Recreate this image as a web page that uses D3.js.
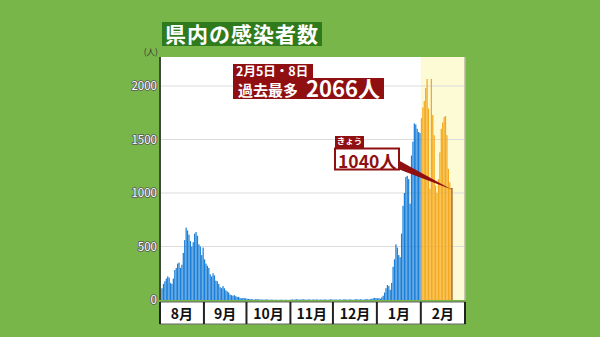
<!DOCTYPE html>
<html><head><meta charset="utf-8">
<script src="https://cdn.jsdelivr.net/npm/d3@7"></script>
<style>
html,body{margin:0;padding:0;background:#79b64a;}
svg{display:block;}
text{font-family:"Noto Sans CJK JP","Noto Sans",sans-serif;}
</style></head><body>
<svg id="c" width="600" height="337"></svg>
<script>
// ---- data ----
const monthLabels = ["8月","9月","10月","11月","12月","1月","2月"];
const monthStarts = ["2021-08-01","2021-09-01","2021-10-01","2021-11-01","2021-12-01","2022-01-01","2022-02-01"];
const yTicks = [0, 500, 1000, 1500, 2000];
const aug = [94,110,150,175,200,220,210,160,150,200,280,300,340,350,300,330,440,560,676,650,610,550,500,540,620,635,600,520,500,420,490];
const sep = [380,340,320,300,240,220,250,230,180,175,150,120,110,130,110,90,80,70,50,45,40,45,35,30,28,20,15,20,18,15];
const oct = [12,10,9,8,6,5,7,8,6,5,4,5,3,4,6,3,2,4,3,2,2,3,1,2,4,2,1,3,2,1,2];
const nov = [4,6,3,5,8,4,3,6,5,7,4,3,5,6,2,4,5,3,6,4,2,5,3,4,6,3,2,5,7,4];
const dec = [3,5,4,2,6,4,3,5,7,4,3,6,5,4,2,6,8,5,4,7,5,3,6,9,7,5,8,12,15,20,18];
const jan = [15,18,12,25,40,70,110,140,130,95,160,310,380,520,490,420,400,620,880,1000,1150,1160,1130,900,1350,1480,1650,1640,1600,1570,1560];
const feb = [1700,1800,1860,1980,2066,1790,1040,2066,1730,1540,1070,1000,1130,1380,1600,1660,1710,1720,1540,1225,1100,1040];
const startDate = "2021-08-01";
const highlightStart = "2022-02-01";
const titleText = "県内の感染者数";
const unitText = "(人)";
const recordDateText = "2月5日・8日";
const recordLabel = "過去最多";
const recordValueText = "2066人";
const todayLabel = "きょう";
const todayValueText = "1040人";

// ---- build ----
const parse = d3.utcParse("%Y-%m-%d");
const values = [].concat(aug, sep, oct, nov, dec, jan, feb);
const t0 = parse(startDate);
const data = values.map((v, i) => ({date: d3.utcDay.offset(t0, i), value: v}));
const endDate = d3.utcDay.offset(t0, values.length);

const L = 160, R = 465, T = 57, B = 300;
const svg = d3.select("#c");

const x = d3.scaleUtc().domain([t0, endDate]).range([L, 452]);
const y = d3.scaleLinear().domain([0, 2271]).range([B, T]);
const hl = parse(highlightStart);

// plot background
svg.append("rect").attr("x", L).attr("y", T).attr("width", R - L).attr("height", B - T).attr("fill", "#ffffff");
svg.append("rect").attr("x", x(hl)).attr("y", T).attr("width", R - x(hl)).attr("height", B - T).attr("fill", "#fdfbd6");

// gridlines
svg.append("g").selectAll("line").data(yTicks.filter(d => d > 0)).join("line")
  .attr("x1", L).attr("x2", R).attr("y1", d => y(d)).attr("y2", d => y(d))
  .attr("stroke", "#dcdcdc").attr("stroke-width", 1);

// bars
svg.append("g").selectAll("rect").data(data).join("rect")
  .attr("x", d => x(d.date))
  .attr("width", d => Math.max(0.5, x(d3.utcDay.offset(d.date, 1)) - x(d.date) - 0.18))
  .attr("y", d => y(d.value))
  .attr("height", d => B - y(d.value))
  .attr("fill", d => d.date >= hl ? "#f4a81c" : "#1a7fd8");

// today bar outline
const last = data[data.length - 1];
const lx0 = x(last.date), lx1 = x(d3.utcDay.offset(last.date, 1));
svg.append("path")
  .attr("d", `M${lx0},${y(last.value)}H${lx1}V${B}`)
  .attr("fill", "none").attr("stroke", "#a4561c").attr("stroke-width", 1.2);

// right border
svg.append("line").attr("x1", R).attr("x2", R).attr("y1", T).attr("y2", B).attr("stroke", "#b9b9a0").attr("stroke-width", 1.5);

// y axis
const yAxis = d3.axisLeft(y).tickValues(yTicks).tickSize(0).tickPadding(3).tickFormat(d3.format("d"));
const ya = svg.append("g").attr("transform", `translate(${L},0)`).call(yAxis);
ya.select(".domain").attr("stroke", "#3d4a3a").attr("stroke-width", 2).attr("d", `M0,${T}V${B}`);
ya.selectAll("text")
  .attr("font-size", 11.5).attr("fill", "#ffffff")
  .attr("stroke", "#5a5a5a").attr("stroke-width", 1.6).attr("paint-order", "stroke")
  .attr("font-family", "'Noto Sans','Noto Sans CJK JP',sans-serif");

svg.append("text").attr("x", 158).attr("y", 55).attr("text-anchor", "end")
  .attr("font-size", 8.5).attr("fill", "#333").text(unitText);

// month band
const bandT = 302, bandB = 324;
const ms = monthStarts.map(parse);
const bounds = ms.map(d => x(d)).concat([R]);
svg.append("rect").attr("x", L).attr("y", bandT).attr("width", R - L).attr("height", bandB - bandT)
  .attr("fill", "#ffffff").attr("stroke", "#666").attr("stroke-width", 1);
svg.append("g").selectAll("line").data(bounds).join("line")
  .attr("x1", d => d).attr("x2", d => d).attr("y1", bandT).attr("y2", bandB)
  .attr("stroke", "#222").attr("stroke-width", 2);
svg.append("g").selectAll("text").data(monthLabels).join("text")
  .attr("x", (d, i) => (bounds[i] + bounds[i + 1]) / 2)
  .attr("y", 319).attr("text-anchor", "middle")
  .attr("font-size", 14).attr("font-weight", "bold").attr("fill", "#111").text(d => d);

// title
svg.append("rect").attr("x", 162).attr("y", 22).attr("width", 160).attr("height", 24).attr("fill", "#2f7a1d");
svg.append("text").attr("x", 242).attr("y", 42).attr("text-anchor", "middle")
  .attr("font-size", 21).attr("font-weight", "bold").attr("fill", "#fff")
  .attr("letter-spacing", 1).text(titleText);

// record callout
const red = "#901012";
svg.append("rect").attr("x", 233).attr("y", 64).attr("width", 80).attr("height", 15).attr("fill", red);
svg.append("text").attr("x", 236).attr("y", 75.5).attr("font-size", 12.5).attr("font-weight", "bold")
  .attr("fill", "#fff").text(recordDateText);
svg.append("rect").attr("x", 233).attr("y", 78).attr("width", 151).attr("height", 21).attr("fill", red);
svg.append("text").attr("x", 238).attr("y", 96).attr("font-size", 15).attr("font-weight", "bold")
  .attr("fill", "#fff").text(recordLabel);
svg.append("text").attr("x", 306).attr("y", 97).attr("font-size", 22).attr("font-weight", "bold")
  .attr("fill", "#fff").text(recordValueText);

// today callout
svg.append("path")
  .attr("d", `M398,160L398,169L${lx0 + 0.5},${y(last.value) + 0.5}Z`)
  .attr("fill", red);
svg.append("rect").attr("x", 335).attr("y", 136).attr("width", 29).attr("height", 12).attr("fill", red);
svg.append("text").attr("x", 349.5).attr("y", 144).attr("text-anchor", "middle")
  .attr("font-size", 8.5).attr("font-weight", "bold").attr("fill", "#fff").text(todayLabel);
svg.append("rect").attr("x", 335).attr("y", 148.5).attr("width", 64).attr("height", 21)
  .attr("fill", "#fff").attr("stroke", red).attr("stroke-width", 2);
svg.append("text").attr("x", 338).attr("y", 167.5).attr("font-size", 17.5).attr("font-weight", "bold")
  .attr("fill", red).text(todayValueText);
</script>
</body></html>
